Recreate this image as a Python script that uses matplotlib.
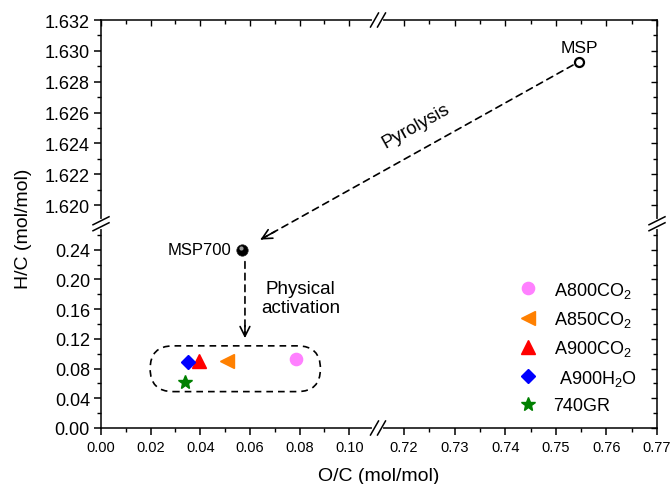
import numpy as np
import matplotlib
matplotlib.use("Agg")
import matplotlib.pyplot as plt
from matplotlib.patches import FancyBboxPatch
from matplotlib.lines import Line2D
from matplotlib.transforms import IdentityTransform, ScaledTranslation

plt.rcParams['font.family'] = ['Liberation Sans', 'DejaVu Sans']
plt.rcParams['mathtext.fontset'] = 'custom'
plt.rcParams['mathtext.rm'] = 'Liberation Sans'

# ---------------- data ----------------
msp = (0.7546, 1.6293)
msp700 = (0.0569, 0.240)
sample_names = ["A800CO$_2$", "A850CO$_2$", "A900CO$_2$", " A900H$_2$O", "740GR"]
sample_oc = [0.0786, 0.0508, 0.0395, 0.0350, 0.0340]
sample_hc = [0.0930, 0.0900, 0.0905, 0.0885, 0.0625]
sample_colors = ["#FF80FF", "#FF8000", "#FF0000", "#0000FF", "#008000"]
sample_markers = ["o", "<", "^", "D", "*"]
sample_sizes = [8.8, 9.5, 9.5, 7.5, 10.5]

# axis segments (broken axes)
x_lo_segment = (0.0, 0.1116)
x_hi_segment = (0.71486, 0.77)
y_lo_segment = (0.0, 0.2750)
y_hi_segment = (1.6188, 1.632)

x_major = [0.00, 0.02, 0.04, 0.06, 0.08, 0.10, 0.72, 0.73, 0.74, 0.75, 0.76, 0.77]
x_minor = [0.01, 0.03, 0.05, 0.07, 0.09, 0.725, 0.735, 0.745, 0.755, 0.765]
y_major = [0.00, 0.04, 0.08, 0.12, 0.16, 0.20, 0.24,
           1.620, 1.622, 1.624, 1.626, 1.628, 1.630, 1.632]
y_minor = [0.02, 0.06, 0.10, 0.14, 0.18, 0.22, 0.26,
           1.621, 1.623, 1.625, 1.627, 1.629, 1.631]
x_ticklabels = ["0.00", "0.02", "0.04", "0.06", "0.08", "0.10",
                "0.72", "0.73", "0.74", "0.75", "0.76", "0.77"]
y_ticklabels = ["0.00", "0.04", "0.08", "0.12", "0.16", "0.20", "0.24",
                "1.620", "1.622", "1.624", "1.626", "1.628", "1.630", "1.632"]

# annotation anchors
phys_arrow_x = 0.058
phys_arrow_y = (0.224, 0.121)
box_x = (0.0198, 0.0884)
box_y = (0.0490, 0.1106)


def piecewise(lo, hi, len_lo, len_hi):
    k_lo = len_lo / (lo[1] - lo[0])
    k_hi = len_hi / (hi[1] - hi[0])
    xs = np.array([lo[0] - 100.0, lo[0], lo[1], hi[0], hi[1], hi[1] + 100.0])
    ps = np.array([-100.0 * k_lo, 0.0, len_lo, len_lo + 0.01,
                   len_lo + 0.01 + len_hi, len_lo + 0.01 + len_hi + 100.0 * k_hi])

    def fwd(v):
        return np.interp(v, xs, ps)

    def inv(p):
        return np.interp(p, ps, xs)
    return fwd, inv


xf, xi = piecewise(x_lo_segment, x_hi_segment, 277.0, 279.0)
yf, yi = piecewise(y_lo_segment, y_hi_segment, 204.0, 203.5)

W, H = 672, 485
fig = plt.figure(figsize=(W / 100, H / 100), dpi=100)
L, R, T, B = 101, 657, 21, 429
pos = [L / W, (H - B) / H, (R - L) / W, (B - T) / H]
ax = fig.add_axes(pos)
ax.set_xscale('function', functions=(xf, xi))
ax.set_yscale('function', functions=(yf, yi))
ax.set_xlim(x_lo_segment[0], x_hi_segment[1])
ax.set_ylim(y_lo_segment[0], y_hi_segment[1])

ax.set_xticks(x_major)
ax.set_xticklabels(x_ticklabels, fontsize=10.5)
ax.set_xticks(x_minor, minor=True)
ax.set_yticks(y_major)
ax.set_yticklabels(y_ticklabels, fontsize=13)
ax.set_yticks(y_minor, minor=True)
ax.tick_params(which='major', direction='out', length=5, width=1.1)
ax.tick_params(which='minor', direction='out', length=3, width=1.0)
ax.tick_params(axis='x', pad=4)
ax.tick_params(axis='y', pad=3)
for s in ax.spines.values():
    s.set_linewidth(1.1)

# mirror axes with inward ticks on top/right
ax2 = fig.add_axes(pos, frameon=False)
ax2.set_xscale('function', functions=(xf, xi))
ax2.set_yscale('function', functions=(yf, yi))
ax2.set_xlim(ax.get_xlim())
ax2.set_ylim(ax.get_ylim())
ax2.set_xticks(x_major)
ax2.set_xticks(x_minor, minor=True)
ax2.set_yticks(y_major)
ax2.set_yticks(y_minor, minor=True)
ax2.tick_params(which='both', direction='in', top=True, right=True, bottom=False, left=False,
                labeltop=False, labelright=False, labelbottom=False, labelleft=False)
ax2.tick_params(which='major', length=4, width=1.0)
ax2.tick_params(which='minor', length=3, width=1.0)
ax2.set_zorder(0)

ax.set_xlabel("O/C (mol/mol)", fontsize=14)
ax.set_ylabel("H/C (mol/mol)", fontsize=14)
ax.xaxis.set_label_coords(0.499, -0.095)
ax.yaxis.set_label_coords(-0.124, 0.49)

# data
ax.plot([msp[0]], [msp[1]], 'o', ms=6.5, mfc='white', mec='black', mew=1.6, zorder=5)
ax.plot([msp700[0]], [msp700[1]], 'o', ms=8.2, mfc='black', mec='#222222', mew=0.5, zorder=5)
ax.plot([msp700[0]], [msp700[1]], 'o', ms=3.0, mfc='#9a9a9a', mec='none', zorder=6,
        transform=ax.transData + ScaledTranslation(-1.2 / 72, 1.4 / 72, fig.dpi_scale_trans))
for n, xo, yo, c, m, s in zip(sample_names, sample_oc, sample_hc, sample_colors, sample_markers, sample_sizes):
    ax.plot([xo], [yo], linestyle='none', marker=m, ms=s, color=c, mec=c, label=n, zorder=5)

ax.text(msp[0], msp[1], "MSP", fontsize=12.5, ha='center', va='bottom',
        transform=ax.transData + ScaledTranslation(0, 5 / 72, fig.dpi_scale_trans))
ax.text(msp700[0], msp700[1], "MSP700", fontsize=12, ha='right', va='center',
        transform=ax.transData + ScaledTranslation(-8 / 72, 0, fig.dpi_scale_trans))

# pyrolysis arrow (dashed shaft + solid head)
ax.annotate("", xy=msp700, xytext=msp,
            arrowprops=dict(arrowstyle='-', linestyle=(0, (4, 3)), lw=1.2, color='black',
                            shrinkA=5, shrinkB=15))
p0 = ax.transData.transform(msp)
p1 = ax.transData.transform(msp700)
d = (p0 - p1) / np.hypot(*(p0 - p1))
ang = np.degrees(np.arctan2(d[1], d[0]))
ax.annotate("", xy=msp700, xytext=msp700,
            xycoords=ax.transData + ScaledTranslation(d[0] * 15 / 72, d[1] * 15 / 72, fig.dpi_scale_trans),
            textcoords=ax.transData + ScaledTranslation(d[0] * 27 / 72, d[1] * 27 / 72, fig.dpi_scale_trans),
            arrowprops=dict(arrowstyle='->,head_length=0.7,head_width=0.35', lw=1.2, color='black',
                            shrinkA=0, shrinkB=0))
mid = (p0 + p1) / 2
tx, ty = mid + np.array([5, 30])
ax.text(tx, ty, "Pyrolysis", fontsize=13.5, rotation=ang,
        ha='center', va='center', transform=IdentityTransform())

# physical activation arrow
ax.annotate("", xy=(phys_arrow_x, phys_arrow_y[1]), xytext=(phys_arrow_x, phys_arrow_y[0]),
            arrowprops=dict(arrowstyle='-', linestyle=(0, (4, 3)), lw=1.2, color='black',
                            shrinkA=0, shrinkB=2))
ax.annotate("", xy=(phys_arrow_x, phys_arrow_y[1]), xytext=(0, 9), textcoords='offset points',
            arrowprops=dict(arrowstyle='->,head_length=0.7,head_width=0.35', lw=1.2, color='black',
                            shrinkA=0, shrinkB=0))
ax.text(0.0805, 0.1755, "Physical\nactivation", fontsize=13.5, ha='center', va='center',
        linespacing=1.15)

# rounded dashed box (in pixel space)
b0 = ax.transData.transform((box_x[0], box_y[0]))
b1 = ax.transData.transform((box_x[1], box_y[1]))
hgt = b1[1] - b0[1]
box = FancyBboxPatch((b0[0], b0[1]), b1[0] - b0[0], hgt,
                     boxstyle=f"round,pad=0,rounding_size={hgt / 2}",
                     transform=IdentityTransform(), fill=False, ec='black', lw=1.2,
                     linestyle=(0, (4, 3)))
fig.add_artist(box)

leg = ax.legend(loc='upper left', bbox_to_anchor=(0.736, 0.386), frameon=False, fontsize=13,
                handlelength=1.0, handletextpad=0.9, labelspacing=0.52, borderpad=0, numpoints=1)


# break marks
def brk(px, py, dx, dy, sep_x, sep_y):
    fig.add_artist(Line2D([px - sep_x / 2, px + sep_x / 2], [py - sep_y / 2, py + sep_y / 2],
                          transform=IdentityTransform(), color='white', lw=3, zorder=10))
    for s in (-0.5, 0.5):
        cx, cy = px + s * sep_x, py + s * sep_y
        fig.add_artist(Line2D([cx - dx, cx + dx], [cy - dy, cy + dy], transform=IdentityTransform(),
                              color='black', lw=1.1, zorder=11))


yb = ax.transData.transform((0, y_lo_segment[1]))[1]
xb = ax.transData.transform((x_lo_segment[1], 0))[0]
axl, axb = ax.transAxes.transform((0, 0))
axr, axt = ax.transAxes.transform((1, 1))
for xx in (axl, axr):
    brk(xx, yb, 8, 4, 0, 6)
for yy in (axb, axt):
    brk(xb, yy, 4, 7, 7, 0)

fig.savefig("out.png", dpi=100)
